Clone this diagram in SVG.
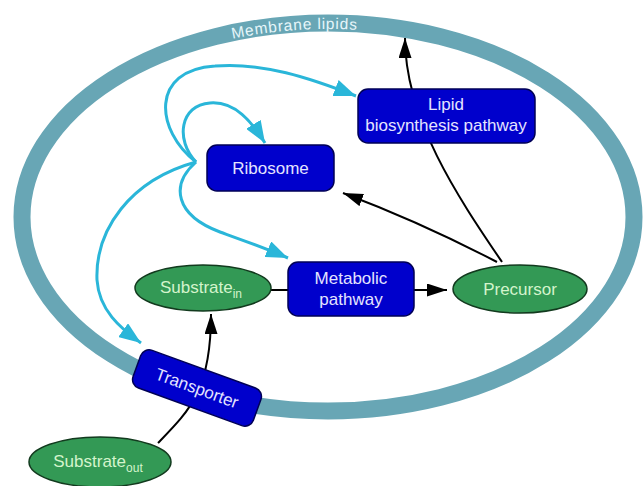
<svg xmlns="http://www.w3.org/2000/svg" width="644" height="486" viewBox="0 0 644 486">
<style>
.box{fill:#0000cc;stroke:#000055;stroke-width:1.5}
.ell{fill:#339955;stroke:#123a1e;stroke-width:1.5}
.bt{font-family:"Liberation Sans",Arial,sans-serif;font-size:17px;fill:#e4e4ff;text-anchor:middle}
.et{font-family:"Liberation Sans",Arial,sans-serif;font-size:17px;fill:#d4f4cc;text-anchor:middle}
.sub{font-size:12px}
.cy{fill:none;stroke:#2ab6d9;stroke-width:3}
.bk{fill:none;stroke:#000;stroke-width:2}
</style>
<defs>
<marker id="ac" markerUnits="userSpaceOnUse" markerWidth="22" markerHeight="17" refX="22" refY="8.5" orient="auto"><path d="M0,0 L22,8.5 L0,17 z" fill="#2ab6d9"/></marker>
<marker id="ab" markerUnits="userSpaceOnUse" markerWidth="20" markerHeight="13" refX="20" refY="6.5" orient="auto"><path d="M0,0 L20,6.5 L0,13 z" fill="#000"/></marker>
<path id="mp" d="M28,217 A300,188 0 0 1 628,217"/>
</defs>
<g id="membrane">
<ellipse cx="328" cy="217" rx="306" ry="194" fill="none" stroke="#68a6b5" stroke-width="17"/>
<text font-family="Liberation Sans,Arial,sans-serif" font-size="15.5" fill="#e6f6fa" letter-spacing="0.8" text-anchor="middle"><textPath href="#mp" startOffset="45.7%">Membrane lipids</textPath></text>
</g>
<g id="connectors">
<path class="cy" d="M196,162 C155,130 150,70 215,66 C262,62 310,78 356,96" marker-end="url(#ac)"/>
<path class="cy" d="M196,162 C175,140 180,105 210,103 C235,101 252,122 265,143" marker-end="url(#ac)"/>
<path class="cy" d="M196,162 C170,185 175,215 220,232 C245,241 265,248 288,258" marker-end="url(#ac)"/>
<path class="cy" d="M196,162 C130,180 95,230 97,280 C99,310 120,328 141,343" marker-end="url(#ac)"/>
<path class="bk" d="M502,262 C460,200 405,120 405,38" marker-end="url(#ab)"/>
<path class="bk" d="M497,262 Q420,222 343,193" marker-end="url(#ab)"/>
<path class="bk" d="M271,290 L288,290"/>
<path class="bk" d="M414,290 L447,290" marker-end="url(#ab)"/>
<path class="bk" d="M158,443 C190,410 211,390 211,314" marker-end="url(#ab)"/>
</g>
<g id="lipid">
<rect class="box" x="358" y="89" width="177" height="54" rx="10"/>
<text class="bt" x="446" y="110">Lipid</text>
<text class="bt" x="446" y="131">biosynthesis pathway</text>
</g>
<g id="ribosome">
<rect class="box" x="207" y="145" width="127" height="46" rx="10"/>
<text class="bt" x="270.5" y="174">Ribosome</text>
</g>
<g id="metabolic">
<rect class="box" x="288" y="262" width="126" height="54" rx="10"/>
<text class="bt" x="351" y="284">Metabolic</text>
<text class="bt" x="351" y="305">pathway</text>
</g>
<g id="substrate_in">
<ellipse class="ell" cx="203" cy="288" rx="68" ry="23"/>
<text class="et" x="201" y="293">Substrate<tspan class="sub" dy="5">in</tspan></text>
</g>
<g id="precursor">
<ellipse class="ell" cx="520" cy="289" rx="67" ry="24"/>
<text class="et" x="520" y="295" font-size="18">Precursor</text>
</g>
<g id="transporter" transform="translate(197,388) rotate(20)">
<rect class="box" x="-64" y="-20" width="128" height="40" rx="9"/>
<text class="bt" x="0" y="6">Transporter</text>
</g>
<g id="substrate_out">
<ellipse class="ell" cx="100" cy="462" rx="71" ry="25"/>
<text class="et" x="98" y="467">Substrate<tspan class="sub" dy="5">out</tspan></text>
</g>
</svg>
